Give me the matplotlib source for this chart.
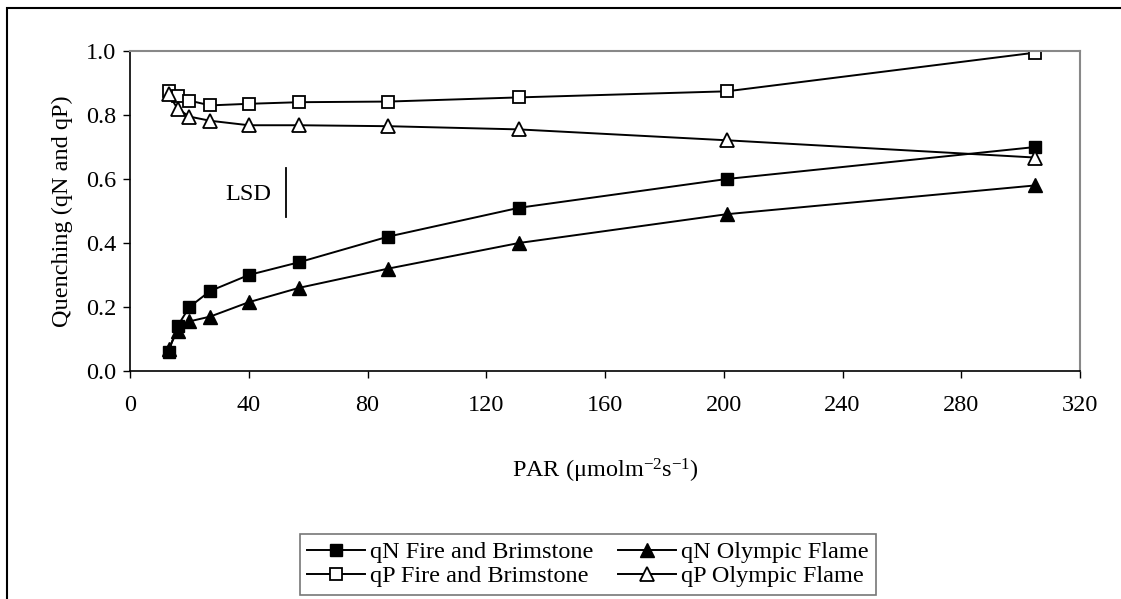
import matplotlib
matplotlib.use("Agg")
import matplotlib.pyplot as plt
from matplotlib.patches import Rectangle

plt.rcParams['font.family'] = ['Liberation Serif', 'DejaVu Serif']
plt.rcParams['mathtext.fontset'] = 'custom'
plt.rcParams['mathtext.rm'] = 'Liberation Serif'
plt.rcParams['mathtext.default'] = 'regular'

# PAR levels (umol m-2 s-1)
par = [13, 16, 20, 27, 40, 57, 87, 131, 201, 305]

# quenching values
qn_fire = [0.06, 0.14, 0.20, 0.25, 0.30, 0.34, 0.42, 0.51, 0.60, 0.70]
qn_olympic = [0.07, 0.125, 0.155, 0.17, 0.215, 0.26, 0.32, 0.40, 0.49, 0.58]
qp_fire = [0.875, 0.86, 0.845, 0.83, 0.835, 0.84, 0.842, 0.855, 0.874, 0.995]
qp_olympic = [0.865, 0.82, 0.795, 0.782, 0.768, 0.768, 0.765, 0.755, 0.721, 0.667]

labels = ["qN Fire and Brimstone", "qP Fire and Brimstone",
          "qN Olympic Flame", "qP Olympic Flame"]

fs = 17.5

fig = plt.figure(figsize=(11.21, 5.99), dpi=100)
ax = fig.add_axes([130 / 1121, 1 - 371 / 599, 950 / 1121, 320 / 599])

lw = 1.4
h1, = ax.plot(par, qn_fire, '-s', color='black', lw=lw, ms=9,
              mfc='black', mec='black')
h3, = ax.plot(par, qn_olympic, '-^', color='black', lw=lw, ms=9.5,
              mfc='black', mec='black')
h2, = ax.plot(par, qp_fire, '-s', color='black', lw=lw, ms=9,
              mfc='white', mec='black', mew=1.3)
h4, = ax.plot(par, qp_olympic, '-^', color='black', lw=lw, ms=9.5,
              mfc='white', mec='black', mew=1.3)

# LSD bar
ax.plot([52.4, 52.4], [0.48, 0.635], color='black', lw=1.3)
ax.text(40, 0.55, "LSD", ha='center', va='center', fontsize=fs)

ax.set_xlim(0, 320)
ax.set_ylim(0, 1.0)
ax.set_xticks(range(0, 321, 40))
ax.set_yticks([0.0, 0.2, 0.4, 0.6, 0.8, 1.0])
ax.set_yticklabels([f"{v:.1f}" for v in ax.get_yticks()])
ax.tick_params(direction='out', length=5, width=1, labelsize=fs, pad=5)
ax.tick_params(axis='x', pad=12)

for side in ('top', 'right'):
    ax.spines[side].set_color('#888888')
    ax.spines[side].set_linewidth(1.5)
for side in ('left', 'bottom'):
    ax.spines[side].set_color('black')
    ax.spines[side].set_linewidth(1.2)

ax.set_ylabel("Quenching (qN and qP)", fontsize=fs, labelpad=9)
ax.set_xlabel(r"PAR ($\mu$molm$^{-2}$s$^{-1}$)", fontsize=fs, labelpad=30)

leg = fig.legend([h1, h2, h3, h4], labels, ncol=2, loc='upper center',
                 bbox_to_anchor=(588 / 1121, 1 - 534 / 599), fontsize=fs,
                 frameon=True, fancybox=False, edgecolor='#555555',
                 handlelength=2.4, handletextpad=0.2, columnspacing=1.0,
                 labelspacing=0.08, borderpad=0.3, borderaxespad=0)
leg.get_frame().set_linewidth(1.2)

# outer chart frame (only left and top visible in the crop)
fig.patches.append(Rectangle((7 / 1121, -0.1), 1.2, 1.1 - 8 / 599,
                             transform=fig.transFigure, fill=False,
                             edgecolor='black', lw=1.5, clip_on=False))

fig.savefig("out.png", dpi=100)
